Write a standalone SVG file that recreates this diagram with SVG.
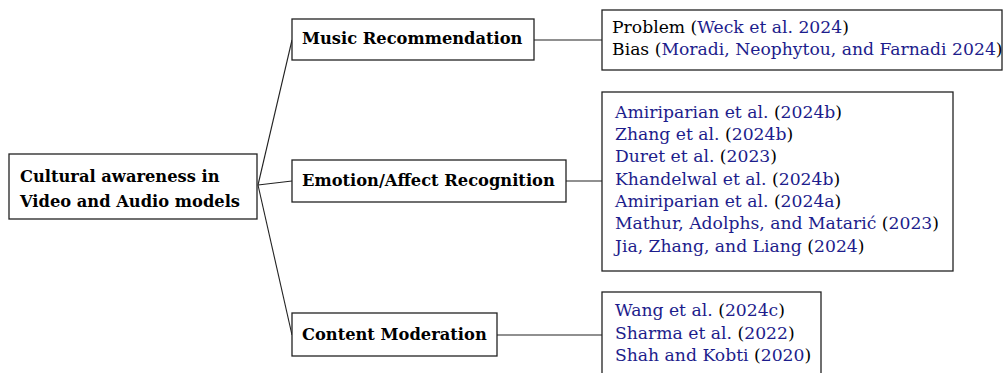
<svg xmlns="http://www.w3.org/2000/svg" width="1004" height="373" viewBox="0 0 1004 373">
<style>
.box{fill:#fff;stroke:#222;stroke-width:1.3}
.edge{fill:none;stroke:#222;stroke-width:1.1}
.b{font-family:"DejaVu Serif",serif;font-weight:bold;font-size:16.3px;fill:#000}
.t{font-family:"DejaVu Serif",serif;font-size:17.2px;fill:#000}
.l{fill:#1d1d8c}
</style>
<g id="connectors">
<line class="edge" x1="258" y1="185" x2="292" y2="40"/>
<line class="edge" x1="258" y1="185" x2="292" y2="181"/>
<line class="edge" x1="258" y1="185" x2="292" y2="335"/>
<line class="edge" x1="534" y1="40" x2="602" y2="40"/>
<line class="edge" x1="566" y1="181" x2="602" y2="181"/>
<line class="edge" x1="497" y1="335" x2="602" y2="335"/>
</g>
<g id="root">
<rect class="box" x="9" y="154" width="248" height="65"/>
<text class="b" x="20" y="182">Cultural awareness in</text>
<text class="b" x="20" y="207">Video and Audio models</text>
</g>
<g id="music">
<rect class="box" x="292" y="19" width="242" height="41"/>
<text class="b" x="302" y="44">Music Recommendation</text>
</g>
<g id="emotion">
<rect class="box" x="292" y="160" width="274" height="42"/>
<text class="b" x="302" y="186">Emotion/Affect Recognition</text>
</g>
<g id="content">
<rect class="box" x="292" y="313" width="205" height="43"/>
<text class="b" x="302" y="340">Content Moderation</text>
</g>
<g id="music-refs">
<rect class="box" x="602" y="10" width="400" height="60"/>
<text class="t" x="612" y="33">Problem (<tspan class="l">Weck et al. 2024</tspan>)</text>
<text class="t" x="612" y="55">Bias (<tspan class="l">Moradi, Neophytou, and Farnadi 2024</tspan>)</text>
</g>
<g id="emotion-refs">
<rect class="box" x="602" y="92" width="351" height="179"/>
<text class="t" x="615" y="118"><tspan class="l">Amiriparian et al.</tspan> (<tspan class="l">2024b</tspan>)</text>
<text class="t" x="615" y="140"><tspan class="l">Zhang et al.</tspan> (<tspan class="l">2024b</tspan>)</text>
<text class="t" x="615" y="162"><tspan class="l">Duret et al.</tspan> (<tspan class="l">2023</tspan>)</text>
<text class="t" x="615" y="185"><tspan class="l">Khandelwal et al.</tspan> (<tspan class="l">2024b</tspan>)</text>
<text class="t" x="615" y="207"><tspan class="l">Amiriparian et al.</tspan> (<tspan class="l">2024a</tspan>)</text>
<text class="t" x="615" y="229"><tspan class="l">Mathur, Adolphs, and Matarić</tspan> (<tspan class="l">2023</tspan>)</text>
<text class="t" x="615" y="252"><tspan class="l">Jia, Zhang, and Liang</tspan> (<tspan class="l">2024</tspan>)</text>
</g>
<g id="content-refs">
<rect class="box" x="602" y="292" width="219" height="90"/>
<text class="t" x="615" y="316"><tspan class="l">Wang et al.</tspan> (<tspan class="l">2024c</tspan>)</text>
<text class="t" x="615" y="339"><tspan class="l">Sharma et al.</tspan> (<tspan class="l">2022</tspan>)</text>
<text class="t" x="615" y="361"><tspan class="l">Shah and Kobti</tspan> (<tspan class="l">2020</tspan>)</text>
</g>
</svg>
